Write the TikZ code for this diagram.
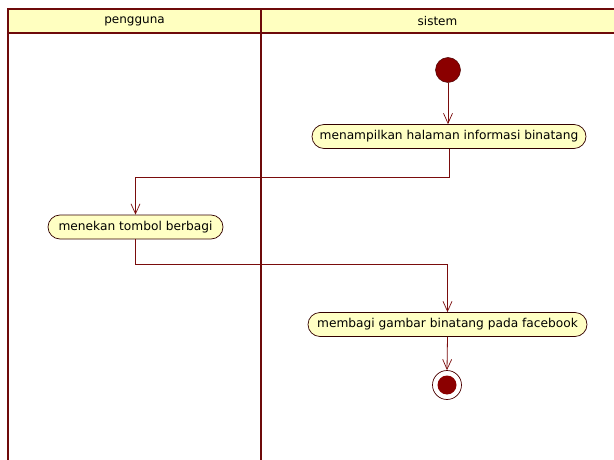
\documentclass[tikz,border=0pt]{standalone}
\usepackage{fontspec}
\setmainfont{DejaVu Sans}
\usetikzlibrary{arrows.meta,positioning}
\definecolor{lane}{HTML}{6E0A0A}
\definecolor{flow}{HTML}{7A0C0C}
\definecolor{actfill}{HTML}{FFFFC4}
\definecolor{headfill}{HTML}{FFFFC0}
\definecolor{dot}{HTML}{8B0000}
\tikzset{
  lanerule/.style={draw=lane, line width=2.6pt},
  action/.style={draw=black!80!red, line width=0.7pt, fill=actfill,
    rounded corners=12pt, minimum height=24pt, inner sep=0pt,
    font=\fontsize{12.2}{14}\selectfont},
  flowline/.style={draw=flow, line width=0.8pt,
    -{Straight Barb[length=10pt,width=9pt,line width=0.7pt]}},
  lanelabel/.style={font=\fontsize{12}{14}\selectfont, inner sep=0pt}
}
\begin{document}
\begin{tikzpicture}[x=1pt,y=-1pt]
  \useasboundingbox (0,0) rectangle (614,460);
  \fill[white] (0,0) rectangle (614,460);
  % swimlane header
  \fill[headfill] (8,9) rectangle (616,33);
  \draw[lanerule] (616,9) -- (8,9) -- (8,462);
  \draw[lanerule] (8,33) -- (616,33);
  \draw[lanerule] (261,9) -- (261,462);
  \node[lanelabel] (laneA) at (134.5,21) {pengguna};
  \node[lanelabel] (laneB) at (437.5,21) {sistem};
  % start and end
  \node[circle, fill=dot, draw=black!70!red, line width=0.5pt,
        minimum size=25pt, inner sep=0pt] (start) at (448,70) {};
  \node[action, minimum width=274pt] (show) at (449,136.5)
    {menampilkan halaman informasi binatang};
  \node[action, minimum width=175pt] (press) at (135.5,227)
    {menekan tombol berbagi};
  \node[action, minimum width=279pt] (share) at (447.5,324.5)
    {membagi gambar binatang pada facebook};
  \node[circle, draw=black!70!red, fill=white, line width=0.7pt,
        minimum size=29pt, inner sep=0pt] (stop) at (447,385) {};
  \node[circle, fill=dot, minimum size=19pt, inner sep=0pt] (stopdot) at (stop) {};
  % flows
  \draw[flowline] (start) -- (start |- show.north);
  \coordinate (b1) at (show.south |- 0,177);
  \draw[flowline] (show.south) -- (b1) -| (press.north);
  \coordinate (b2) at (press.south |- 0,264);
  \draw[flowline] (press.south) -- (b2) -| (share.north);
  \draw[flowline] (share.south) -- (stop.north);
\end{tikzpicture}
\end{document}
